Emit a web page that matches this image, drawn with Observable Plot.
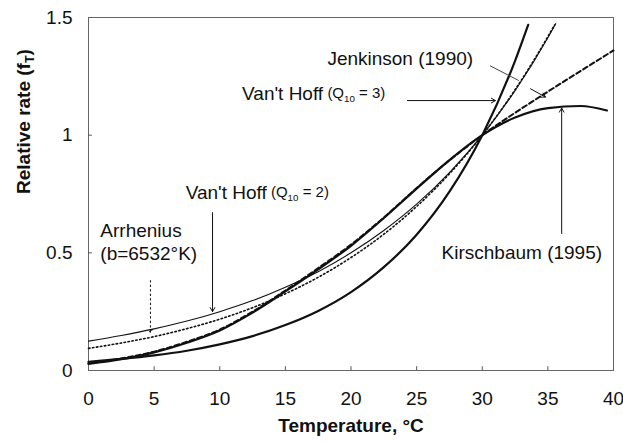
<!DOCTYPE html>
<html><head><meta charset="utf-8">
<script src="https://cdn.jsdelivr.net/npm/d3@7"></script>
<script src="https://cdn.jsdelivr.net/npm/@observablehq/plot@0.6"></script>
<style>
body{margin:0;background:#fff;}
svg text{font-family:"Liberation Sans",Arial,sans-serif;}
</style></head><body><div id="chart"></div>
<script>
// ---- tick values ----
const xTicks = [0, 5, 10, 15, 20, 25, 30, 35, 40];
const yTicks = [0, 0.5, 1, 1.5];

// ---- series (temperature °C, relative rate) ----
const tQ2 = [0, 2.5, 5, 7.5, 10, 12.5, 15, 17.5, 20, 22.5, 25, 27.5, 30, 32.5, 35, 35.6];
const fQ2 = [0.125, 0.149, 0.177, 0.210, 0.25, 0.297, 0.354, 0.420, 0.5, 0.595, 0.707, 0.841, 1, 1.189, 1.414, 1.474];

const tQ3 = [0, 2.5, 5, 7.5, 10, 12.5, 15, 17.5, 20, 22.5, 25, 27.5, 30, 32.5, 33.5];
const fQ3 = [0.037, 0.049, 0.064, 0.084, 0.111, 0.146, 0.193, 0.253, 0.333, 0.439, 0.577, 0.760, 1, 1.316, 1.469];

const tArr = [0, 2.5, 5, 7.5, 10, 12.5, 15, 17.5, 20, 22.5, 25, 27.5, 30, 32.5, 35, 35.5];
const fArr = [0.094, 0.117, 0.144, 0.178, 0.218, 0.267, 0.326, 0.396, 0.480, 0.579, 0.697, 0.836, 1, 1.193, 1.419, 1.468];

const tJenk = [0, 2.5, 5, 7.5, 10, 12.5, 15, 17.5, 20, 22.5, 25, 27.5, 30, 32.5, 35, 37.5, 40];
const fJenk = [0.030, 0.051, 0.080, 0.122, 0.174, 0.250, 0.340, 0.435, 0.535, 0.650, 0.775, 0.893, 1, 1.095, 1.185, 1.273, 1.36];

const tKirs = [0, 2.5, 5, 7.5, 10, 12.5, 15, 17.5, 20, 22.5, 25, 27.5, 30, 32.5, 35, 37.5, 39.5];
const fKirs = [0.028, 0.048, 0.077, 0.118, 0.170, 0.246, 0.336, 0.430, 0.530, 0.648, 0.773, 0.894, 1, 1.075, 1.115, 1.124, 1.105];

// ---- annotation texts ----
const labelTexts = ["Jenkinson (1990)", "Van't Hoff", "(Q_{10} = 3)", "Van't Hoff", "(Q_{10} = 2)", "Arrhenius", "(b=6532°K)", "Kirschbaum (1995)"];
const labelT = [18.2, 11.7, 18.2, 7.4, 13.9, 0.9, 0.9, 26.9];
const labelF = [1.326, 1.177, 1.177, 0.756, 0.756, 0.595, 0.497, 0.501];
const labelSize = [19, 19, 15, 19, 15, 19, 19, 19];

// ---- annotation arrows (x1,y1 -> x2,y2 in data units) ----
const arrowX1 = [24.3, 9.45, 36.05, 33.68];
const arrowY1 = [1.147, 0.671, 0.582, 1.197];
const arrowX2 = [31.0, 9.45, 36.05, 34.82];
const arrowY2 = [1.147, 0.25, 1.115, 1.162];
const leaderX1 = [30.59], leaderY1 = [1.295], leaderX2 = [32.78], leaderY2 = [1.232];
const dotX1 = [4.72], dotY1 = [0.382], dotX2 = [4.72], dotY2 = [0.16];

const zip = (t, f) => t.map((x, i) => ({t: x, f: f[i]}));
const labels = labelTexts.map((s, i) => ({s, t: labelT[i], f: labelF[i], size: labelSize[i]}));
const arrows = arrowX1.map((_, i) => ({x1: arrowX1[i], y1: arrowY1[i], x2: arrowX2[i], y2: arrowY2[i]}));
const leaders = leaderX1.map((_, i) => ({x1: leaderX1[i], y1: leaderY1[i], x2: leaderX2[i], y2: leaderY2[i]}));
const dots = dotX1.map((_, i) => ({x1: dotX1[i], y1: dotY1[i], x2: dotX2[i], y2: dotY2[i]}));

const ink = "#111";
const svg = Plot.plot({
  width: 623, height: 443,
  marginLeft: 88, marginRight: 10, marginTop: 17, marginBottom: 73,
  style: {fontSize: "19px", fontFamily: "'Liberation Sans', Arial, sans-serif", background: "#fff", color: ink},
  x: {domain: [0, 40]},
  y: {domain: [0, 1.5]},
  marks: [
    Plot.frame({stroke: "#666", strokeWidth: 1}),
    Plot.axisX({ticks: xTicks, tickSize: 0, tickPadding: 21, label: null}),
    Plot.axisY({ticks: yTicks, tickSize: 0, tickPadding: 16, label: null, tickFormat: d => String(d)}),
    Plot.ruleX(xTicks.slice(1, -1), {y1: 0, y2: 0.016, stroke: "#555"}),
    Plot.ruleY(yTicks.slice(1, -1), {x1: 0, x2: 0.3, stroke: "#555"}),
    Plot.line(zip(tQ2, fQ2), {x: "t", y: "f", curve: "monotone-x", stroke: ink, strokeWidth: 1.1}),
    Plot.line(zip(tArr, fArr), {x: "t", y: "f", curve: "monotone-x", stroke: ink, strokeWidth: 1.6, strokeDasharray: "1.5,2.5"}),
    Plot.line(zip(tQ3, fQ3), {x: "t", y: "f", curve: "monotone-x", stroke: ink, strokeWidth: 2.2}),
    Plot.line(zip(tKirs, fKirs), {x: "t", y: "f", curve: "monotone-x", stroke: ink, strokeWidth: 2.2}),
    Plot.line(zip(tJenk, fJenk), {x: "t", y: "f", curve: "monotone-x", stroke: ink, strokeWidth: 2, strokeDasharray: "5,3"}),
    Plot.arrow(arrows, {x1: "x1", y1: "y1", x2: "x2", y2: "y2", stroke: ink, strokeWidth: 1, headLength: 7}),
    Plot.link(leaders, {x1: "x1", y1: "y1", x2: "x2", y2: "y2", stroke: "#444", strokeWidth: 1}),
    Plot.arrow(dots, {x1: "x1", y1: "y1", x2: "x2", y2: "y2", stroke: ink, strokeWidth: 1, headLength: 6, strokeDasharray: "1.5,3"}),
    Plot.text(labels.filter(d => d.size === 19), {x: "t", y: "f", text: "s", textAnchor: "start", fontSize: 19, fill: ink}),
    Plot.text(labels.filter(d => d.size === 15), {x: "t", y: "f", text: "s", textAnchor: "start", fontSize: 15, fill: ink}),
    Plot.text(["Temperature, °C"], {frameAnchor: "bottom", dy: 61, text: d => d, fontSize: 19, fontWeight: "bold", fill: ink}),
    Plot.text(["Relative rate (f_{T})"], {frameAnchor: "left", dx: -65, rotate: -90, text: d => d, fontSize: 19, fontWeight: "bold", fill: ink})
  ]
});

// subscripts: "_{..}" -> lowered small tspan
svg.querySelectorAll("text").forEach(t => {
  const leaves = t.querySelectorAll("tspan").length ? [...t.querySelectorAll("tspan")] : [t];
  leaves.forEach(n => {
    const s = n.textContent;
    if (!s.includes("_{")) return;
    n.textContent = "";
    const parts = s.split(/(_\{[^}]*\})/).filter(p => p);
    let lowered = false;
    for (const p of parts) {
      const sp = document.createElementNS("http://www.w3.org/2000/svg", "tspan");
      if (p.startsWith("_{")) {
        sp.textContent = p.slice(2, -1);
        sp.setAttribute("font-size", "65%");
        sp.setAttribute("dy", "4");
        lowered = true;
      } else {
        sp.textContent = p;
        if (lowered) { sp.setAttribute("dy", "-4"); lowered = false; }
      }
      n.appendChild(sp);
    }
  });
});
document.getElementById("chart").appendChild(svg);
</script></body></html>
